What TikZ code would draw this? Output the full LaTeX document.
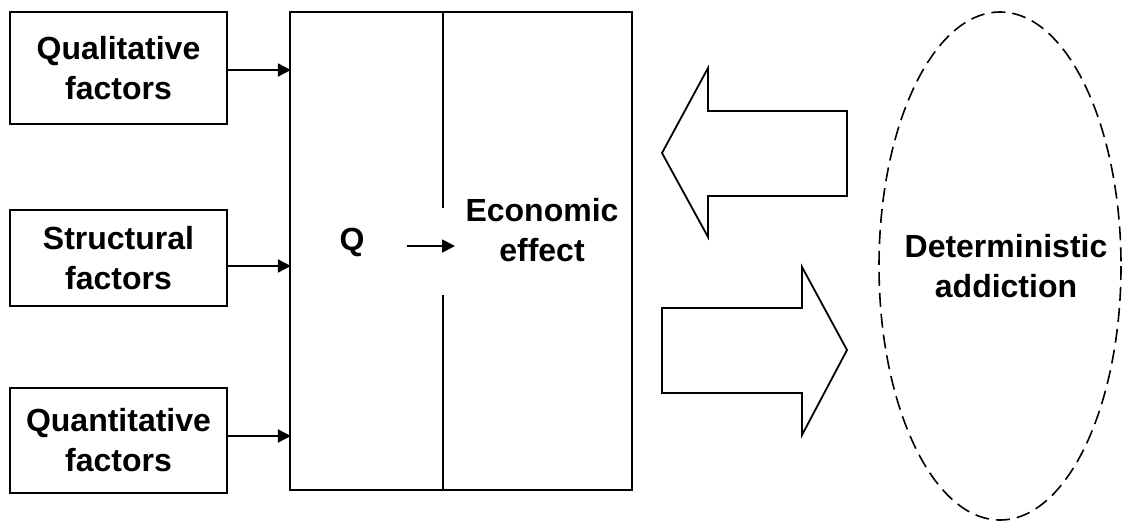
\documentclass[tikz,border=0pt]{standalone}
\usepackage{fontspec}
\setmainfont{Liberation Sans}
\usetikzlibrary{arrows.meta}
\begin{document}
\begin{tikzpicture}[x=1pt,y=-1pt,
  every node/.style={font=\fontsize{32}{40}\selectfont\bfseries, align=center, inner sep=0pt},
  factor/.style={draw, line width=1.8pt, minimum width=217pt},
  conn/.style={line width=1.8pt, -{Triangle[length=13pt,width=13pt]}},
  blockarrow/.style={draw, line width=1.8pt, line join=miter}]
\useasboundingbox (0,0) rectangle (1123,523);
% factor boxes
\node[factor, minimum height=112pt] (qual) at (118.5,68) {Qualitative\\factors};
\node[factor, minimum height=96pt] (struct) at (118.5,258) {Structural\\factors};
\node[factor, minimum height=105pt] (quant) at (118.5,440.5) {Quantitative\\factors};
% main box
\node[draw, line width=1.8pt, minimum width=342pt, minimum height=478pt] (big) at (461,251) {};
\coordinate (d1) at (443,12);
\coordinate (d2) at (443,208);
\coordinate (d3) at (443,295);
\coordinate (d4) at (443,490);
\draw[line width=1.8pt] (d1) -- (d2);
\draw[line width=1.8pt] (d3) -- (d4);
\node (q) at (352,242) {Q};
\node (econ) at (542,230) {Economic\\effect};
\coordinate (qa) at (407,246);
\coordinate (qb) at (455,246);
\draw[conn] (qa) -- (qb);
% connectors
\draw[conn] (qual.east) ++(0,2) -- ++(63,0);
\draw[conn] (struct.east) ++(0,8) -- ++(63,0);
\draw[conn] (quant.east) ++(0,-4.5) -- ++(63,0);
% block arrows
\draw[blockarrow] (662,153) -- (708,68) -- (708,111) -- (847,111) -- (847,196) -- (708,196) -- (708,237) -- cycle;
\draw[blockarrow] (847,350) -- (802,267) -- (802,308) -- (662,308) -- (662,393) -- (802,393) -- (802,435) -- cycle;
% ellipse
\draw[line width=1.6pt, dash pattern=on 14pt off 7pt] (1000,266) ellipse [x radius=121, y radius=254];
\node (det) at (1006,266) {Deterministic\\addiction};
\end{tikzpicture}
\end{document}
